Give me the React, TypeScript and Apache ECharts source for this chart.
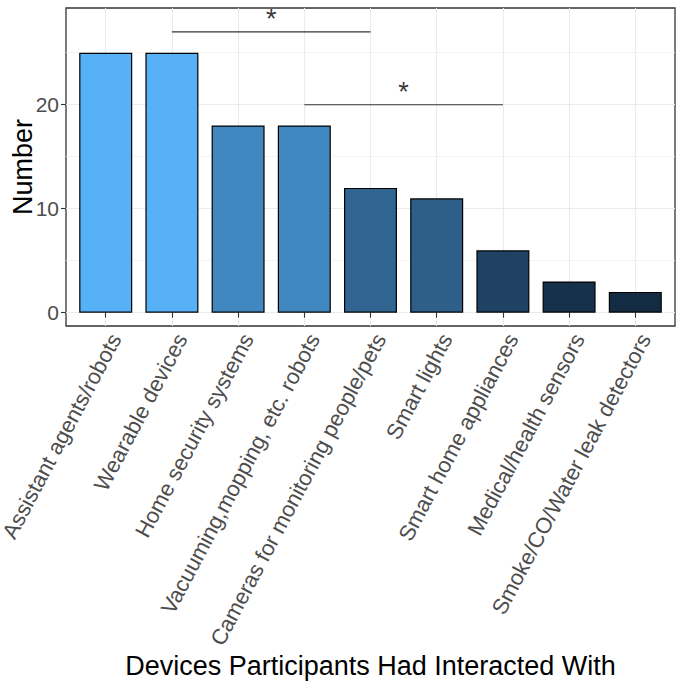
import React, { useEffect, useRef } from "react";
import * as echarts from "echarts";

const categories = [
  "Assistant agents/robots",
  "Wearable devices",
  "Home security systems",
  "Vacuuming,mopping, etc. robots",
  "Cameras for monitoring people/pets",
  "Smart lights",
  "Smart home appliances",
  "Medical/health sensors",
  "Smoke/CO/Water leak detectors",
];
const values = [25, 25, 18, 18, 12, 11, 6, 3, 2];
const yMajorTicks = [0, 10, 20];
const yMinorTicks = [5, 15, 25];
const brackets = [
  { from: 2, to: 5, y: 27, label: "*" },
  { from: 4, to: 7, y: 20, label: "*" },
];

const FONT = "Liberation Sans, Arial, sans-serif";

export default function App() {
  const ref = useRef<HTMLDivElement>(null);
  useEffect(() => {
    if (!ref.current) return;
    const chart = echarts.init(ref.current, null, { renderer: "svg" });
    const positions = categories.map((_, i) => i + 1);
    const barData = values.map((v, i) => [positions[i], v]);
    const series: any[] = [
      {
        type: "bar",
        data: barData,
        barWidth: 53,
        z: 3,
        itemStyle: { borderColor: "#000", borderWidth: 1.2 },
      },
    ];
    brackets.forEach((b) => {
      series.push({
        type: "line",
        data: [
          [b.from, b.y],
          [b.to, b.y],
        ],
        symbol: "none",
        z: 4,
        lineStyle: { color: "#333", width: 1.1 },
      });
      series.push({
        type: "scatter",
        data: [[(b.from + b.to) / 2, b.y]],
        symbolSize: 0,
        z: 4,
        label: {
          show: true,
          position: "top",
          distance: -1,
          formatter: b.label,
          fontSize: 27,
          color: "#000",
          fontFamily: FONT,
        },
      });
    });
    chart.setOption({
      animation: false,
      backgroundColor: "#fff",
      textStyle: { fontFamily: FONT },
      grid: {
        left: 66,
        right: 9,
        top: 8,
        bottom: 358,
        show: true,
        borderColor: "#333",
        borderWidth: 1.3,
        backgroundColor: "#fff",
        containLabel: false,
        outerBoundsMode: "none",
      },
      visualMap: {
        type: "continuous",
        show: false,
        seriesIndex: 0,
        dimension: 1,
        min: Math.min(...values),
        max: Math.max(...values),
        inRange: { color: ["#132B43", "#56B1F7"] },
      },
      xAxis: {
        type: "value",
        min: 0.4,
        max: 9.6,
        name: "Devices Participants Had Interacted With",
        nameLocation: "middle",
        nameGap: 322,
        nameTextStyle: { fontSize: 27, color: "#000", fontFamily: FONT },
        axisLine: { show: false },
        axisTick: {
          show: true,
          length: 5,
          customValues: positions,
          lineStyle: { color: "#333", width: 1.1 },
        },
        axisLabel: {
          customValues: positions,
          formatter: (v: number) => categories[Math.round(v) - 1] ?? "",
          rotate: 62,
          align: "right",
          verticalAlign: "top",
          fontSize: 22,
          color: "#4D4D4D",
          margin: 4,
          fontFamily: FONT,
        },
        splitLine: { show: true, lineStyle: { color: "#EBEBEB", width: 1.1 } },
      },
      yAxis: [
        {
          type: "value",
          min: -1.28,
          max: 29.3,
          name: "Number",
          nameLocation: "middle",
          nameGap: 30,
          nameMoveOverlap: false,
          nameTextStyle: { fontSize: 27, color: "#000", fontFamily: FONT },
          axisLine: { show: false },
          axisTick: {
            show: true,
            length: 5,
            customValues: yMajorTicks,
            lineStyle: { color: "#333", width: 1.1 },
          },
          axisLabel: {
            customValues: yMajorTicks,
            fontSize: 21,
            color: "#4D4D4D",
            margin: 7,
            fontFamily: FONT,
          },
          splitLine: { show: true, lineStyle: { color: "#EBEBEB", width: 1.1 } },
        },
        {
          type: "value",
          min: -1.28,
          max: 29.3,
          position: "left",
          axisLine: { show: false },
          axisTick: { show: false, customValues: yMinorTicks },
          axisLabel: { show: false, customValues: yMinorTicks },
          splitLine: { show: true, lineStyle: { color: "#F2F2F2", width: 0.8 } },
        },
      ],
      series,
    });
    return () => chart.dispose();
  }, []);
  return (
    <div
      ref={ref}
      style={{ position: "fixed", left: 0, top: 0, width: 684, height: 684 }}
    />
  );
}
